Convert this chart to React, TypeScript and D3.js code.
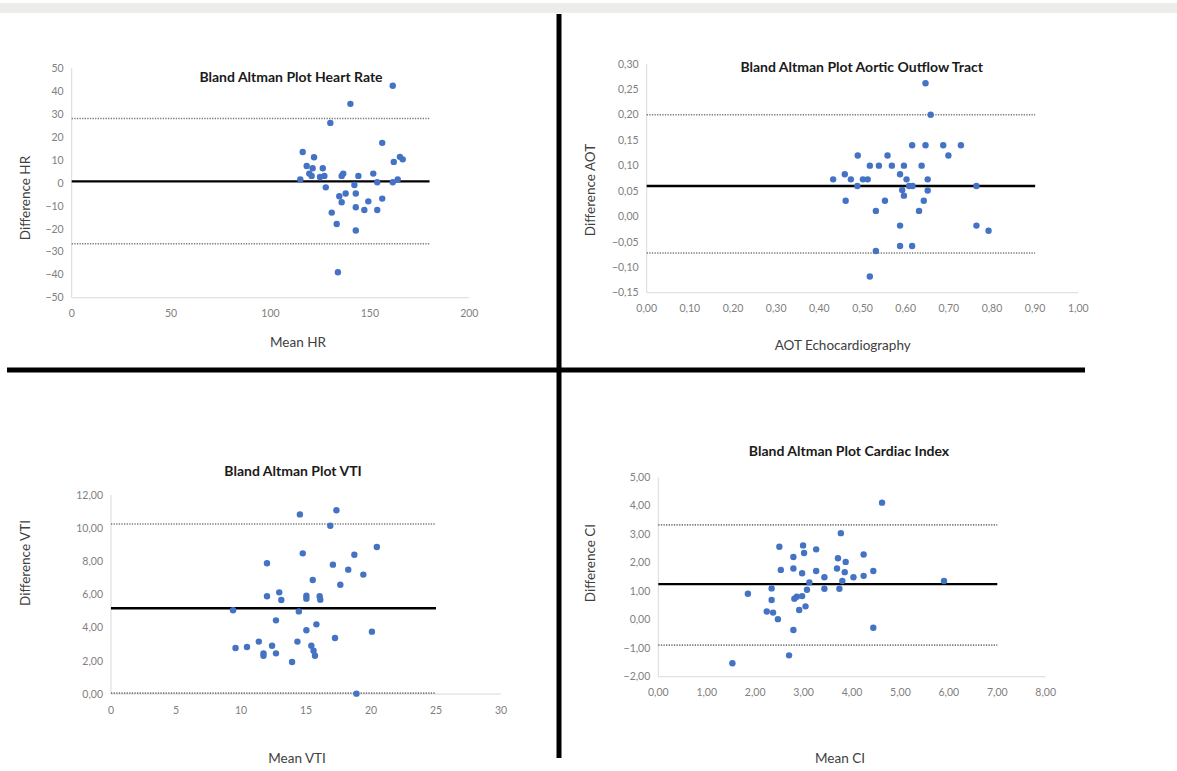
import React from 'react';
import * as d3 from 'd3';

// Heart rate: mean of methods vs difference
const hrMean = [161.5, 140.2, 130.1, 156.2, 116.2, 121.9, 118.2, 121.2, 126.3, 119.5, 120.7, 124.9, 127.1, 115, 127.8, 136.6, 135.8, 142.2, 144.2, 137.8, 134.6, 135.8, 142.9, 130.8, 133.3, 142.9, 142.9, 147.2, 149.2, 153.7, 156.2, 151.7, 153.7, 133.9, 161.5, 164, 162, 165.1, 166.5];
const hrDiff = [42.4, 34.5, 26.2, 17.5, 13.5, 11.2, 7.4, 6.4, 6.4, 4.1, 3.1, 2.6, 3.1, 1.5, -1.9, 4.1, 3.1, -0.9, 3.1, -4.6, -5.8, -8.4, -4.6, -12.9, -17.9, -20.7, -10.6, -11.8, -8.0, -11.8, -6.8, 4.1, 0.3, -38.9, 0.3, 1.5, 9.2, 11.4, 10.3];

// Aortic outflow tract
const aotEcho = [0.646, 0.658, 0.615, 0.646, 0.687, 0.728, 0.489, 0.558, 0.699, 0.517, 0.538, 0.568, 0.596, 0.637, 0.459, 0.432, 0.473, 0.501, 0.512, 0.587, 0.602, 0.651, 0.488, 0.608, 0.616, 0.764, 0.592, 0.651, 0.596, 0.461, 0.552, 0.642, 0.531, 0.631, 0.587, 0.764, 0.792, 0.587, 0.615, 0.531, 0.517];
const aotDiff = [0.262, 0.20, 0.14, 0.14, 0.14, 0.14, 0.12, 0.12, 0.12, 0.10, 0.10, 0.10, 0.10, 0.10, 0.083, 0.073, 0.073, 0.073, 0.073, 0.083, 0.073, 0.073, 0.06, 0.06, 0.06, 0.06, 0.052, 0.051, 0.041, 0.031, 0.031, 0.031, 0.011, 0.011, -0.018, -0.018, -0.028, -0.058, -0.058, -0.068, -0.118];

// VTI
const vtiMean = [17.34, 14.53, 16.87, 20.45, 14.75, 18.72, 12.0, 17.07, 18.25, 19.41, 15.52, 17.64, 12.94, 12.0, 15.03, 15.03, 16.05, 16.1, 13.1, 9.39, 14.45, 12.69, 15.8, 15.03, 20.07, 17.23, 11.37, 14.34, 9.58, 10.46, 12.39, 15.41, 11.73, 11.73, 12.69, 15.58, 15.69, 13.93, 18.88];
const vtiDiff = [11.08, 10.83, 10.15, 8.86, 8.48, 8.4, 7.88, 7.8, 7.5, 7.2, 6.87, 6.59, 6.13, 5.89, 5.93, 5.75, 5.89, 5.69, 5.67, 5.05, 4.98, 4.44, 4.2, 3.84, 3.76, 3.38, 3.16, 3.16, 2.77, 2.83, 2.91, 2.91, 2.45, 2.31, 2.45, 2.61, 2.31, 1.93, 0.02];

// Cardiac index
const ciMean = [4.62, 3.77, 2.5, 2.99, 3.26, 3.01, 2.79, 4.24, 3.71, 3.87, 2.53, 2.79, 3.26, 3.69, 4.44, 2.97, 3.85, 3.43, 4.03, 4.24, 3.8, 3.12, 5.9, 2.34, 3.43, 3.74, 3.07, 1.85, 2.97, 2.86, 2.81, 2.34, 3.04, 2.91, 2.24, 2.37, 2.47, 2.79, 4.44, 2.7, 1.53];
const ciDiff = [4.11, 3.04, 2.56, 2.61, 2.47, 2.34, 2.2, 2.29, 2.16, 2.03, 1.75, 1.8, 1.71, 1.8, 1.71, 1.63, 1.67, 1.49, 1.49, 1.54, 1.36, 1.31, 1.36, 1.1, 1.09, 1.09, 1.05, 0.91, 0.83, 0.81, 0.74, 0.69, 0.47, 0.34, 0.29, 0.25, 0.02, -0.36, -0.28, -1.25, -1.53];

// mean bias, upper limit, lower limit
const hrLimits = [0.7, 28.1, -26.5];
const aotLimits = [0.06, 0.20, -0.072];
const vtiLimits = [5.17, 10.25, 0.05];
const ciLimits = [1.25, 3.33, -0.89];

const comma = d3.formatLocale({ decimal: ',', thousands: '.', grouping: [3], currency: ['', ''] });
const f0 = d3.format('d');
const f2 = comma.format('.2f');

const FONT = 'Lato, "Open Sans", sans-serif';

type PanelProps = {
  title: string; xLabel: string; yLabel: string;
  xs: number[]; ys: number[]; limits: number[];
  xDomain: [number, number]; yDomain: [number, number];
  xRange: [number, number]; yRange: [number, number];
  xTicks: number[]; yTicks: number[];
  xFmt: (n: number) => string; yFmt: (n: number) => string;
  lineEnd: number;
  titlePos: [number, number]; xLabelPos: [number, number]; yLabelPos: [number, number];
};

const Panel = (p: PanelProps) => {
  const x = d3.scaleLinear().domain(p.xDomain).range(p.xRange);
  const y = d3.scaleLinear().domain(p.yDomain).range(p.yRange);
  const [mean, upper, lower] = p.limits;
  const x0 = x(p.xDomain[0]);
  const xe = x(p.lineEnd);
  const yBottom = y(p.yDomain[0]);
  return (
    <g fontFamily={FONT}>
      {/* axes */}
      <line x1={x0} x2={x0} y1={y(p.yDomain[1])} y2={yBottom} stroke="#d9d9d9" strokeWidth={1} />
      <line x1={x0} x2={x(p.xDomain[1])} y1={yBottom} y2={yBottom} stroke="#d9d9d9" strokeWidth={1} />
      {p.yTicks.map(t => (
        <text key={'y' + t} x={x0 - 8} y={y(t)} dy="0.35em" textAnchor="end" fontSize={10.5} fill="#808080">{p.yFmt(t)}</text>
      ))}
      {p.xTicks.map(t => (
        <text key={'x' + t} x={x(t)} y={yBottom + 16} dy="0.35em" textAnchor="middle" fontSize={10.5} fill="#808080">{p.xFmt(t)}</text>
      ))}
      {/* limits of agreement */}
      {[upper, lower].map((v, i) => (
        <line key={'l' + i} x1={x0} x2={xe} y1={y(v)} y2={y(v)} stroke="#7a7a7a" strokeWidth={1.6} strokeDasharray="1.3,1.3" />
      ))}
      <line x1={x0} x2={xe} y1={y(mean)} y2={y(mean)} stroke="#000" strokeWidth={2.4} />
      {p.xs.map((v, i) => (
        <circle key={'c' + i} cx={x(v)} cy={y(p.ys[i])} r={3.2} fill="#4472c4" />
      ))}
      <text x={p.titlePos[0]} y={p.titlePos[1]} dy="0.35em" textAnchor="middle" fontSize={14} fontWeight="bold" fill="#1a1a1a">{p.title}</text>
      <text x={p.xLabelPos[0]} y={p.xLabelPos[1]} dy="0.35em" textAnchor="middle" fontSize={13.5} fill="#404040">{p.xLabel}</text>
      <text transform={`translate(${p.yLabelPos[0]},${p.yLabelPos[1]}) rotate(-90)`} dy="0.35em" textAnchor="middle" fontSize={13.5} fill="#404040">{p.yLabel}</text>
    </g>
  );
};

export default function App() {
  return (
    <svg width={1177} height={771} style={{ position: 'absolute', left: 0, top: 0, background: '#fff' }}>
      <rect x={0} y={3} width={1177} height={10} fill="#ececea" />
      <Panel
        title="Bland Altman Plot Heart Rate" xLabel="Mean HR" yLabel="Difference HR"
        xs={hrMean} ys={hrDiff} limits={hrLimits}
        xDomain={[0, 200]} yDomain={[-50, 50]} xRange={[71.7, 469.3]} yRange={[297.7, 68.3]}
        xTicks={d3.range(0, 201, 50)} yTicks={d3.range(-50, 51, 10)}
        xFmt={f0} yFmt={f0} lineEnd={180}
        titlePos={[291, 77]} xLabelPos={[298, 342]} yLabelPos={[25, 198]}
      />
      <Panel
        title="Bland Altman Plot Aortic Outflow Tract" xLabel="AOT Echocardiography" yLabel="Difference AOT"
        xs={aotEcho} ys={aotDiff} limits={aotLimits}
        xDomain={[0, 1]} yDomain={[-0.15, 0.3]} xRange={[646.7, 1078.3]} yRange={[292.7, 64]}
        xTicks={d3.range(0, 10.5, 1).map(d => d / 10)} yTicks={d3.range(-3, 6.5, 1).map(d => d * 0.05)}
        xFmt={f2} yFmt={f2} lineEnd={0.9}
        titlePos={[861.7, 67]} xLabelPos={[842.7, 345]} yLabelPos={[590.7, 190]}
      />
      <Panel
        title="Bland Altman Plot VTI" xLabel="Mean VTI" yLabel="Difference VTI"
        xs={vtiMean} ys={vtiDiff} limits={vtiLimits}
        xDomain={[0, 30]} yDomain={[0, 12]} xRange={[111, 501]} yRange={[694, 495]}
        xTicks={d3.range(0, 31, 5)} yTicks={d3.range(0, 13, 2)}
        xFmt={f0} yFmt={f2} lineEnd={25}
        titlePos={[293, 471]} xLabelPos={[297, 758]} yLabelPos={[25, 563]}
      />
      <Panel
        title="Bland Altman Plot Cardiac Index" xLabel="Mean CI" yLabel="Difference CI"
        xs={ciMean} ys={ciDiff} limits={ciLimits}
        xDomain={[0, 8]} yDomain={[-2, 5]} xRange={[658.3, 1045.7]} yRange={[676.7, 477.3]}
        xTicks={d3.range(0, 9, 1)} yTicks={d3.range(-2, 6, 1)}
        xFmt={f2} yFmt={f2} lineEnd={7}
        titlePos={[849, 451]} xLabelPos={[840, 758]} yLabelPos={[590.7, 563]}
      />
      {/* quadrant separators */}
      <line x1={559} x2={559} y1={14} y2={758} stroke="#000" strokeWidth={5} />
      <line x1={7} x2={1085} y1={370} y2={370} stroke="#000" strokeWidth={5} />
    </svg>
  );
}
